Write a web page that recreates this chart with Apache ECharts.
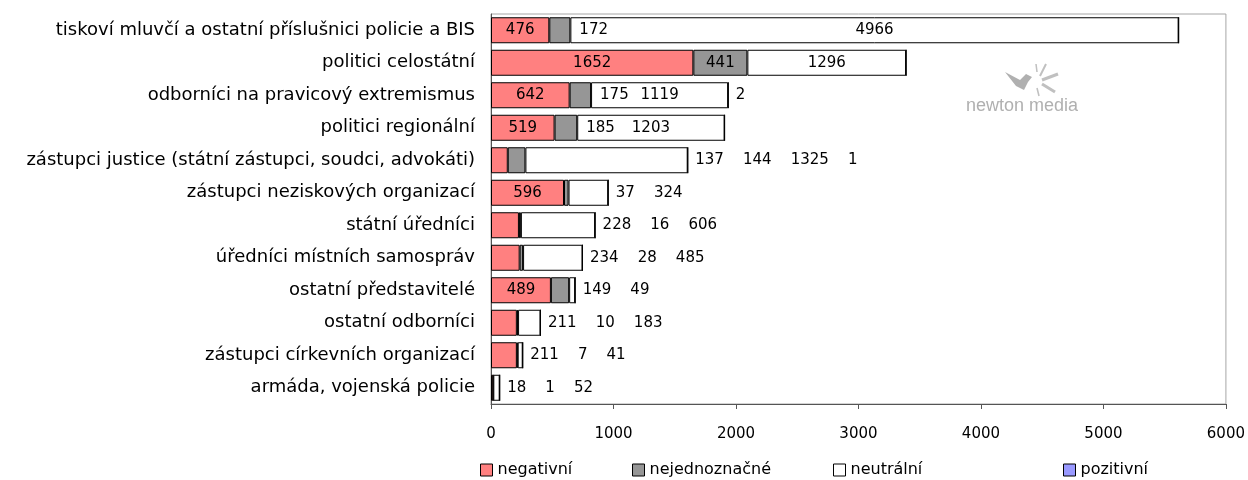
<!DOCTYPE html>
<html>
<head>
<meta charset="utf-8">
<script src="https://cdn.jsdelivr.net/npm/echarts@6/dist/echarts.min.js"></script>
<style>
  html, body { margin: 0; padding: 0; background: #fff; }
  #chart { width: 1248px; height: 480px; }
</style>
</head>
<body>
<div id="chart"></div>
<script>
// kategorie shora dolů
const categories = [
  'tiskoví mluvčí a ostatní příslušnici policie a BIS',
  'politici celostátní',
  'odborníci na pravicový extremismus',
  'politici regionální',
  'zástupci justice (státní zástupci, soudci, advokáti)',
  'zástupci neziskových organizací',
  'státní úředníci',
  'úředníci místních samospráv',
  'ostatní představitelé',
  'ostatní odborníci',
  'zástupci církevních organizací',
  'armáda, vojenská policie'
];
const negativni     = [476, 1652, 642, 519, 137, 596, 228, 234, 489, 211, 211, 18];
const nejednoznacne = [172, 441, 175, 185, 144, 37, 16, 28, 149, 10, 7, 1];
const neutralni     = [4966, 1296, 1119, 1203, 1325, 324, 606, 485, 49, 183, 41, 52];
const pozitivni     = [0, 0, 2, 0, 1, 0, 0, 0, 0, 0, 0, 0];
const xTicks = [0, 1000, 2000, 3000, 4000, 5000, 6000];

// kde je popisek: 'in' uvnitř, 'after' za vlastním úsekem, 'trail' za koncem pruhu, '-' nic
const labelPlan = [
  ['in', 'after', 'in', '-'],
  ['in', 'in', 'in', '-'],
  ['in', 'after', 'in', 'trail'],
  ['in', 'after', 'in', '-'],
  ['trail', 'trail', 'trail', 'trail'],
  ['in', 'trail', 'trail', '-'],
  ['trail', 'trail', 'trail', '-'],
  ['trail', 'trail', 'trail', '-'],
  ['in', 'trail', 'trail', '-'],
  ['trail', 'trail', 'trail', '-'],
  ['trail', 'trail', 'trail', '-'],
  ['trail', 'trail', 'trail', '-']
];

const allSeries = [negativni, nejednoznacne, neutralni, pozitivni];
const names = ['negativní', 'nejednoznačné', 'neutrální', 'pozitivní'];
const colors = ['#FF8080', '#969696', '#FFFFFF', '#9999FF'];
const legendLeft = [480, 632, 833, 1063];
const font = 'DejaVu Sans';

function buildItems(values, col) {
  return values.map(function (v, i) {
    const mode = labelPlan[i][col];
    let label = { show: false };
    if (mode === 'in') {
      label = { show: true, position: 'inside' };
    } else if (mode === 'after') {
      label = { show: true, position: 'right', distance: 9 };
    }
    if (col === 3) {
      // trailing labels of the whole row go after the bar end
      const trail = [];
      for (let s = 0; s < 4; s++) {
        if (labelPlan[i][s] === 'trail') trail.push(allSeries[s][i]);
      }
      if (trail.length) {
        label = {
          show: true,
          position: 'right',
          distance: 7,
          formatter: trail.join('    ')
        };
      }
    }
    return { value: v, label: label };
  });
}

var myChart = echarts.init(document.getElementById('chart'));

myChart.setOption({
  animation: false,
  textStyle: { fontFamily: font },
  grid: {
    left: 491,
    right: 21,
    top: 14,
    bottom: 76,
    show: true,
    borderColor: '#a6a6a6',
    borderWidth: 1
  },
  legend: names.map(function (n, k) {
    return {
      data: [n],
      left: legendLeft[k],
      top: 462,
      padding: 0,
      icon: 'rect',
      itemWidth: 12,
      itemHeight: 12,
      itemStyle: { borderColor: '#000', borderWidth: 1 },
      textStyle: { fontFamily: font, fontSize: 16, color: '#000' }
    };
  }),
  xAxis: {
    type: 'value',
    min: xTicks[0],
    max: xTicks[xTicks.length - 1],
    interval: 1000,
    axisLine: { show: true, lineStyle: { color: '#555', width: 1 } },
    axisTick: { show: true, length: 5, lineStyle: { color: '#555' } },
    axisLabel: {
      margin: 23, fontSize: 15, color: '#000', fontFamily: font,
      formatter: function (v) { return String(v); }
    },
    splitLine: { show: false }
  },
  yAxis: {
    type: 'category',
    data: categories,
    inverse: true,
    axisLine: { show: true, lineStyle: { color: '#555', width: 1 } },
    axisTick: { show: false },
    axisLabel: { margin: 16, fontSize: 18, color: '#000', fontFamily: font }
  },
  graphic: [
    {
      type: 'text',
      left: 966,
      top: 97,
      style: { text: 'newton media', fill: '#b0b0b0', fontSize: 18, fontFamily: 'Liberation Sans' }
    },
    {
      type: 'polygon',
      shape: {
        points: [[1005, 72], [1020, 80], [1026, 74], [1032, 77], [1028, 82], [1024, 90], [1016, 86]]
      },
      style: { fill: '#b0b0b0' }
    },
    { type: 'line', shape: { x1: 1040, y1: 76, x2: 1046, y2: 64 }, style: { stroke: '#c0c0c0', lineWidth: 2 } },
    { type: 'line', shape: { x1: 1042, y1: 80, x2: 1058, y2: 74 }, style: { stroke: '#c0c0c0', lineWidth: 3 } },
    { type: 'line', shape: { x1: 1042, y1: 84, x2: 1055, y2: 92 }, style: { stroke: '#c0c0c0', lineWidth: 3 } },
    { type: 'line', shape: { x1: 1037, y1: 72, x2: 1036, y2: 64 }, style: { stroke: '#c0c0c0', lineWidth: 1.5 } },
    { type: 'line', shape: { x1: 1037, y1: 88, x2: 1039, y2: 96 }, style: { stroke: '#c0c0c0', lineWidth: 1.5 } }
  ],
  series: names.map(function (n, k) {
    return {
      name: n,
      type: 'bar',
      stack: 'total',
      barWidth: 26,
      data: buildItems(allSeries[k], k),
      itemStyle: { color: colors[k], borderColor: '#000', borderWidth: 1 },
      label: { color: '#000', fontSize: 15, fontFamily: font },
      emphasis: { disabled: true }
    };
  })
});
</script>
</body>
</html>
